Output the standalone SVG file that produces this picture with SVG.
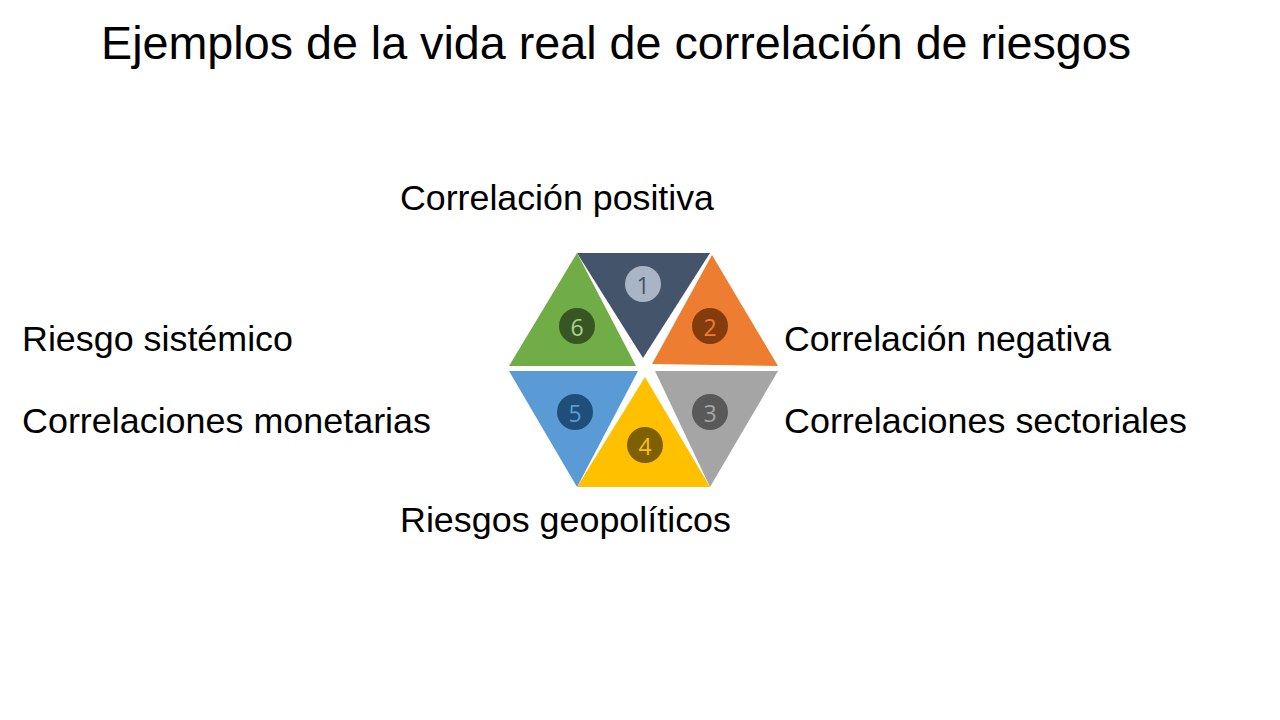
<svg xmlns="http://www.w3.org/2000/svg" width="1280" height="720" viewBox="0 0 1280 720">
<style>
.t{font-family:"Liberation Sans",Arial,sans-serif;fill:#000}
.lbl{font-size:35px}
.num{font-family:"Open Sans","Liberation Sans",sans-serif;font-size:23px;text-anchor:middle;dominant-baseline:central}
</style>
<rect width="1280" height="720" fill="#fff"/>
<text class="t" x="101" y="59" font-size="47" textLength="1030" lengthAdjust="spacingAndGlyphs">Ejemplos de la vida real de correlación de riesgos</text>
<g id="hexagon">
<g id="n1"><polygon points="577,253 710,253 643,358" fill="#44546A"/><circle cx="643" cy="284" r="18" fill="#A9B4C6"/><text class="num" x="643" y="285" fill="#44546A">1</text></g>
<g id="n2"><polygon points="712,255 778,366 652,364" fill="#ED7D31"/><circle cx="710" cy="326" r="18" fill="#843C0C"/><text class="num" x="710" y="327" fill="#ED7D31">2</text></g>
<g id="n3"><polygon points="655,371 778,371 710,487" fill="#A5A5A5"/><circle cx="710" cy="412" r="18" fill="#595959"/><text class="num" x="710" y="413" fill="#A5A5A5">3</text></g>
<g id="n4"><polygon points="645,377 710,487 577,487" fill="#FFC000"/><circle cx="645" cy="445" r="18" fill="#7F6000"/><text class="num" x="645" y="446" fill="#FFC000">4</text></g>
<g id="n5"><polygon points="509,371 638,371 577,487" fill="#5B9BD5"/><circle cx="575" cy="412" r="18" fill="#1F4E79"/><text class="num" x="575" y="413" fill="#5B9BD5">5</text></g>
<g id="n6"><polygon points="577,253 636,366 509,366" fill="#70AD47"/><circle cx="577" cy="326" r="18" fill="#375623"/><text class="num" x="577" y="327" fill="#A9D18E">6</text></g>
</g>
<g id="labels">
<text class="t lbl" x="400" y="210" textLength="314" lengthAdjust="spacingAndGlyphs">Correlación positiva</text>
<text class="t lbl" x="784" y="351" textLength="327" lengthAdjust="spacingAndGlyphs">Correlación negativa</text>
<text class="t lbl" x="784" y="433" textLength="403" lengthAdjust="spacingAndGlyphs">Correlaciones sectoriales</text>
<text class="t lbl" x="400" y="532" textLength="331" lengthAdjust="spacingAndGlyphs">Riesgos geopolíticos</text>
<text class="t lbl" x="22" y="351" textLength="271" lengthAdjust="spacingAndGlyphs">Riesgo sistémico</text>
<text class="t lbl" x="22" y="433" textLength="409" lengthAdjust="spacingAndGlyphs">Correlaciones monetarias</text>
</g>
<g id="connectors"></g>
</svg>
